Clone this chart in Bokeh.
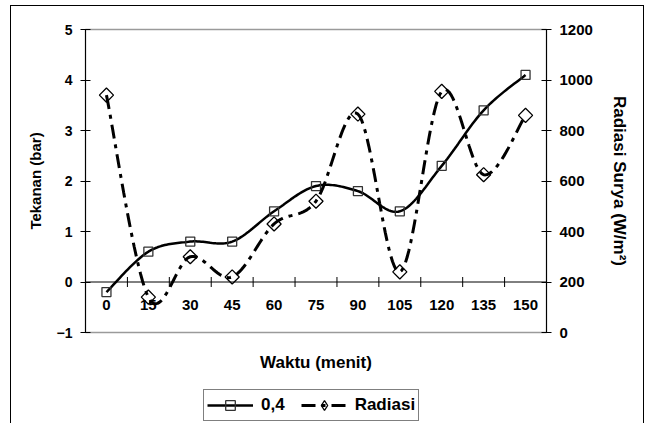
import numpy as np
from bokeh.plotting import figure
from bokeh.layouts import column
from bokeh.models import Range1d, LinearAxis, FixedTicker, Span, Legend, LegendItem
from bokeh.core.properties import value
from bokeh.embed import file_html
from bokeh.resources import INLINE

# ---- data ----
waktu = ["0", "15", "30", "45", "60", "75", "90", "105", "120", "135", "150"]
tekanan = [-0.2, 0.6, 0.8, 0.8, 1.4, 1.9, 1.8, 1.4, 2.3, 3.4, 4.1]
radiasi = [940, 140, 300, 220, 430, 520, 865, 240, 955, 625, 860]
y_left_ticks = [-1, 0, 1, 2, 3, 4, 5]
y_right_ticks = [0, 200, 400, 600, 800, 1000, 1200]

FONT = "Liberation Sans"
DASH = "14 6 4 6"


def smooth(xs, ys, n=24):
    """Bezier smoothing of a polyline (like a spreadsheet 'smoothed line')."""
    P = np.column_stack([xs, ys]).astype(float)
    Pe = np.vstack([P[0], P, P[-1]])
    out = []
    for i in range(len(P) - 1):
        p0, p1, p2, p3 = Pe[i], Pe[i + 1], Pe[i + 2], Pe[i + 3]
        c1 = p1 + (p2 - p0) / 6.0
        c2 = p2 - (p3 - p1) / 6.0
        t = np.linspace(0, 1, n)[:, None]
        seg = (1 - t) ** 3 * p1 + 3 * (1 - t) ** 2 * t * c1 + 3 * (1 - t) * t ** 2 * c2 + t ** 3 * p2
        out.append(seg if i == 0 else seg[1:])
    a = np.vstack(out)
    return a[:, 0], a[:, 1]


idx = list(range(len(waktu)))
bounds = [i + 0.5 for i in idx[:-1]]

p = figure(
    frame_width=461, frame_height=303,
    x_range=Range1d(-0.5, len(waktu) - 0.5), y_range=Range1d(-1, 5),
    output_backend="svg", toolbar_location=None,
    min_border_left=74, min_border_right=97, min_border_top=23, min_border_bottom=50,
)
p.extra_y_ranges = {"rad": Range1d(0, 1200)}
p.grid.visible = False
p.outline_line_color = "#9a9a9a"
p.outline_line_width = 1.5


def style_axis(ax, tick_size, title_size, standoff):
    ax.major_tick_in = 5
    ax.major_tick_out = 5
    ax.minor_tick_line_color = None
    ax.axis_line_color = "black"
    ax.major_tick_line_color = "black"
    ax.major_label_text_color = "black"
    ax.major_label_text_font = FONT
    ax.major_label_text_font_style = "bold"
    ax.major_label_text_font_size = tick_size
    ax.major_label_standoff = 8
    ax.axis_label_text_color = "black"
    ax.axis_label_text_font = FONT
    ax.axis_label_text_font_style = "bold"
    ax.axis_label_text_font_size = title_size
    ax.axis_label_standoff = standoff


# left axis
ya = p.yaxis[0]
ya.ticker = FixedTicker(ticks=y_left_ticks)
ya.axis_label = "Tekanan (bar)"
style_axis(ya, "14px", "15px", 10)

# right axis
ra = LinearAxis(y_range_name="rad", ticker=FixedTicker(ticks=y_right_ticks))
ra.axis_label = "Radiasi Surya (W/m²)"
style_axis(ra, "15px", "17px", 14)
p.add_layout(ra, "right")

# bottom axis: title only
xa = p.xaxis[0]
xa.ticker = FixedTicker(ticks=[])
xa.axis_line_color = None
xa.major_tick_line_color = None
xa.minor_tick_line_color = None
xa.major_tick_out = 0
xa.major_tick_in = 0
xa.major_label_standoff = 0
xa.axis_label = "Waktu (menit)"
xa.axis_label_text_color = "black"
xa.axis_label_text_font = FONT
xa.axis_label_text_font_style = "bold"
xa.axis_label_text_font_size = "17px"
xa.axis_label_standoff = 20

# category axis crossing at zero
p.add_layout(Span(location=0, dimension="width", line_color="black", line_width=1))
p.scatter(x=bounds, y=[0] * len(bounds), marker="dash", size=10, angle=np.pi / 2,
          line_color="black", line_width=1)
p.text(x=idx, y=[0] * len(idx), text=waktu, text_font=value(FONT), text_font_style="bold",
       text_font_size="15px", text_align="center", text_baseline="top", y_offset=18,
       text_color="black")

# series
sx, sy = smooth(idx, tekanan)
p.line(sx, sy, line_color="black", line_width=2.5)
p.scatter(x=idx, y=tekanan, marker="square", size=9, fill_color=None,
          line_color="#333333", line_width=1.3)

rx, ry = smooth(idx, radiasi)
p.line(rx, ry, line_color="black", line_width=3, line_dash=DASH, y_range_name="rad")
p.scatter(x=idx, y=radiasi, marker="square", angle=np.pi / 4, size=10, fill_color=None,
          line_color="black", line_width=1.3, y_range_name="rad")

# ---- legend strip (separate figure below the chart, so nothing is clipped) ----
q = figure(width=632, height=41, min_border=0, output_backend="svg", toolbar_location=None,
           x_axis_location=None, y_axis_location=None,
           x_range=Range1d(100, 101), y_range=Range1d(0, 1))
q.grid.visible = False
q.outline_line_color = None
# legend proxies (their data lie outside this strip's ranges, so only the legend shows them)
lg1 = q.line(idx, tekanan, line_color="black", line_width=2.5)
mg1 = q.scatter(idx, tekanan, marker="square", fill_color=None, line_color="#333333", line_width=1.3)
lg2 = q.line(idx, radiasi, line_color="black", line_width=3, line_dash=DASH)
mg2 = q.scatter(idx, radiasi, marker="diamond", fill_color=None, line_color="black", line_width=1.3)

legend = Legend(
    items=[LegendItem(label="0,4", renderers=[lg1, mg1]),
           LegendItem(label="Radiasi", renderers=[lg2, mg2])],
    orientation="horizontal", location=(118, 2), margin=0, padding=3,
    spacing=16, glyph_width=46, glyph_height=24, label_height=24, label_standoff=8,
    border_line_color="black", border_line_width=1,
    label_text_font=FONT, label_text_font_style="bold", label_text_font_size="17px",
    label_text_color="black", background_fill_color="white",
)
q.add_layout(legend, "center")

layout = column(p, q, spacing=0)
layout.styles = {"border": "1px solid black", "margin-left": "10px", "margin-top": "5px"}

open("out.html", "w").write(file_html(layout, INLINE))
